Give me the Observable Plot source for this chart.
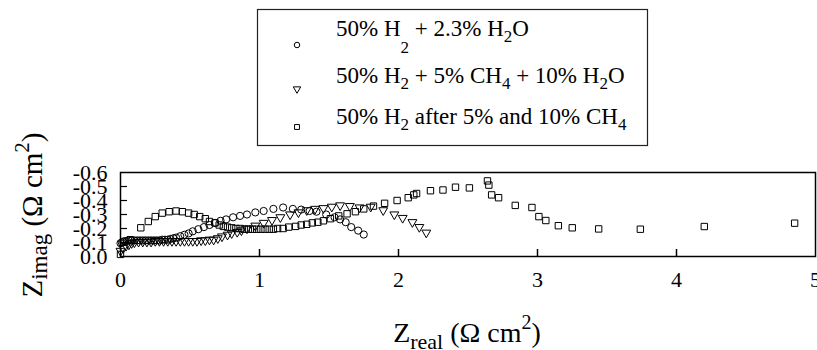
<!DOCTYPE html>
<html><head><meta charset="utf-8">
<script src="https://cdn.jsdelivr.net/npm/d3@7"></script>
<script src="https://cdn.jsdelivr.net/npm/@observablehq/plot@0.6"></script>
<style>
html,body{margin:0;padding:0;background:#fff;}
#chart{position:relative;width:817px;height:350px;overflow:hidden;}
</style></head><body><div id="chart"></div>
<script>
// Zreal (Ω cm²) and -Zimag (Ω cm²)
const circleX = [0.00,0.01,0.02,0.03,0.045,0.06,0.08,0.10,0.12,0.14,0.16,0.18,0.20,0.22,0.24,0.26,0.28,0.30,0.32,0.34,0.36,0.38,0.40,0.43,0.46,0.49,0.52,0.56,0.60,0.64,0.68,0.72,0.76,0.81,0.86,0.91,0.97,1.03,1.10,1.17,1.24,1.30,1.36,1.41,1.48,1.54,1.58,1.62,1.66,1.71,1.75];
const circleNegZimag = [0.095,0.10,0.105,0.11,0.11,0.115,0.115,0.115,0.115,0.115,0.115,0.115,0.115,0.115,0.115,0.115,0.115,0.12,0.12,0.12,0.125,0.13,0.135,0.145,0.155,0.165,0.18,0.195,0.21,0.225,0.24,0.255,0.265,0.28,0.29,0.30,0.315,0.325,0.34,0.35,0.34,0.335,0.325,0.32,0.30,0.28,0.265,0.245,0.21,0.185,0.157];

const triangleX = [0.00,0.02,0.04,0.06,0.08,0.10,0.13,0.16,0.19,0.22,0.25,0.28,0.31,0.34,0.37,0.40,0.43,0.46,0.49,0.52,0.55,0.58,0.61,0.64,0.67,0.70,0.73,0.77,0.80,0.84,0.87,0.91,0.97,1.03,1.09,1.15,1.22,1.28,1.34,1.40,1.46,1.52,1.58,1.65,1.72,1.80,1.89,1.97,2.03,2.10,2.15,2.20];
const triangleNegZimag = [0.04,0.06,0.075,0.085,0.095,0.10,0.105,0.105,0.105,0.105,0.11,0.11,0.11,0.11,0.11,0.11,0.11,0.11,0.11,0.11,0.11,0.115,0.115,0.12,0.12,0.13,0.143,0.155,0.166,0.175,0.186,0.20,0.22,0.24,0.26,0.28,0.30,0.315,0.33,0.34,0.345,0.355,0.365,0.36,0.35,0.355,0.33,0.30,0.275,0.245,0.21,0.17];

const squareX = [0.00,0.07,0.146,0.20,0.25,0.30,0.35,0.40,0.445,0.49,0.53,0.57,0.61,0.64,0.68,0.71,0.74,0.77,0.80,0.83,0.86,0.89,0.92,0.95,0.98,1.01,1.04,1.07,1.10,1.13,1.17,1.21,1.26,1.30,1.34,1.38,1.42,1.46,1.51,1.57,1.63,1.69,1.75,1.82,1.90,1.99,2.07,2.11,2.13,2.23,2.32,2.41,2.51,2.64,2.65,2.67,2.72,2.84,2.96,3.01,3.06,3.15,3.25,3.44,3.74,4.20,4.85];
const squareNegZimag = [0.015,0.12,0.205,0.25,0.285,0.31,0.32,0.325,0.32,0.31,0.30,0.285,0.27,0.25,0.24,0.225,0.215,0.21,0.205,0.20,0.20,0.195,0.195,0.195,0.195,0.195,0.195,0.195,0.195,0.20,0.20,0.21,0.215,0.225,0.23,0.24,0.245,0.255,0.27,0.29,0.305,0.32,0.34,0.36,0.38,0.40,0.42,0.44,0.45,0.47,0.475,0.495,0.49,0.54,0.51,0.44,0.42,0.365,0.35,0.285,0.257,0.22,0.205,0.197,0.195,0.214,0.238];

const xTicks = [0,1,2,3,4,5];
const yTicks = [0,-0.1,-0.2,-0.3,-0.4,-0.5,-0.6];
const xInnerTicks = [1,2,3,4];
const yInnerTicks = [-0.1,-0.2,-0.3,-0.4,-0.5];

const triangleDown = {
  draw(context, size) {
    const a = Math.sqrt(size * 4 / Math.sqrt(3));
    const h = a * Math.sqrt(3) / 2;
    context.moveTo(-a / 2, -h / 3);
    context.lineTo(a / 2, -h / 3);
    context.lineTo(0, 2 * h / 3);
    context.closePath();
  }
};

const toRows = (xs, ys) => xs.map((x, i) => ({x, y: -ys[i]}));
const circles = toRows(circleX, circleNegZimag);
const triangles = toRows(triangleX, triangleNegZimag);
const squares = toRows(squareX, squareNegZimag);

const svg = Plot.plot({
  width: 817, height: 350,
  marginTop: 172, marginBottom: 94, marginLeft: 120, marginRight: 2,
  style: {fontFamily: "'Liberation Serif', 'Times New Roman', serif", fontSize: "22px", background: "white", color: "black", overflow: "visible"},
  x: {domain: [0, 5], ticks: xTicks, tickFormat: d => String(d), tickSize: 0, tickPadding: 15, label: null},
  y: {domain: [0, -0.6], ticks: yTicks, tickFormat: d => d === 0 ? "0.0" : d.toFixed(1), tickSize: 0, tickPadding: 13, label: null},
  marks: [
    Plot.frame({stroke: "black", strokeWidth: 1.5}),
    Plot.tickX(xInnerTicks, {x: d => d, insetTop: 77, stroke: "black", strokeWidth: 1.5}),
    Plot.tickY(yInnerTicks, {y: d => d, insetRight: 688, stroke: "black", strokeWidth: 1.2}),
    Plot.dot(squares, {x: "x", y: "y", symbol: "square", r: 3.6, stroke: "black", fill: "none", strokeWidth: 1}),
    Plot.dot(triangles, {x: "x", y: "y", symbol: triangleDown, r: 3.3, stroke: "black", fill: "none", strokeWidth: 1}),
    Plot.dot(circles, {x: "x", y: "y", symbol: "circle", r: 3.6, stroke: "black", fill: "none", strokeWidth: 1})
  ]
});
document.getElementById("chart").appendChild(svg);

const s = d3.select(svg);
const serif = "'Liberation Serif', 'Times New Roman', serif";

// x-axis title
const xt = s.append("text").attr("x", 467).attr("y", 342).attr("text-anchor", "middle")
  .attr("font-family", serif).attr("font-size", 28).attr("fill", "black");
xt.append("tspan").text("Z");
xt.append("tspan").attr("font-size", 22).attr("dy", 7).text("real");
xt.append("tspan").attr("dy", -7).text(" (Ω cm");
xt.append("tspan").attr("font-size", 20).attr("dy", -13).text("2");
xt.append("tspan").attr("dy", 13).text(")");

// y-axis title
const yt = s.append("text").attr("transform", "translate(42,215) rotate(-90)").attr("text-anchor", "middle")
  .attr("font-family", serif).attr("font-size", 29).attr("fill", "black");
yt.append("tspan").text("Z");
yt.append("tspan").attr("font-size", 23).attr("dy", 5).text("imag");
yt.append("tspan").attr("dy", -5).text(" (Ω cm");
yt.append("tspan").attr("font-size", 21).attr("dy", -13).text("2");
yt.append("tspan").attr("dy", 13).text(")");

// legend
const lg = s.append("g");
lg.append("rect").attr("x", 257.5).attr("y", 9.5).attr("width", 390).attr("height", 136)
  .attr("fill", "white").attr("stroke", "#222").attr("stroke-width", 1.2);
const legendSymbols = [d3.symbolCircle, triangleDown, d3.symbolSquare];
const legendY = [45, 89, 127];
legendSymbols.forEach((sym, i) => {
  lg.append("path").attr("transform", `translate(297,${legendY[i]})`)
    .attr("d", d3.symbol(sym, 24)()).attr("fill", "none").attr("stroke", "black").attr("stroke-width", 1);
});
const rows = [
  {base: 36, parts: [["50% H", 0], ["2", 17], [" + 2.3% H", 0], ["2", 6], ["O", 0]]},
  {base: 83, parts: [["50% H", 0], ["2", 6], [" + 5% CH", 0], ["4", 6], [" + 10% H", 0], ["2", 6], ["O", 0]]},
  {base: 124, parts: [["50% H", 0], ["2", 6], [" after 5% and 10% CH", 0], ["4", 6]]}
];
rows.forEach(row => {
  const t = lg.append("text").attr("x", 336).attr("y", row.base).attr("text-anchor", "start")
    .attr("font-family", serif).attr("font-size", 23).attr("fill", "black").attr("xml:space", "preserve");
  let prev = 0;
  row.parts.forEach(([txt, drop]) => {
    const ts = t.append("tspan").attr("dy", drop - prev).text(txt);
    if (drop) ts.attr("font-size", 17);
    prev = drop;
  });
});
</script>
</body></html>
